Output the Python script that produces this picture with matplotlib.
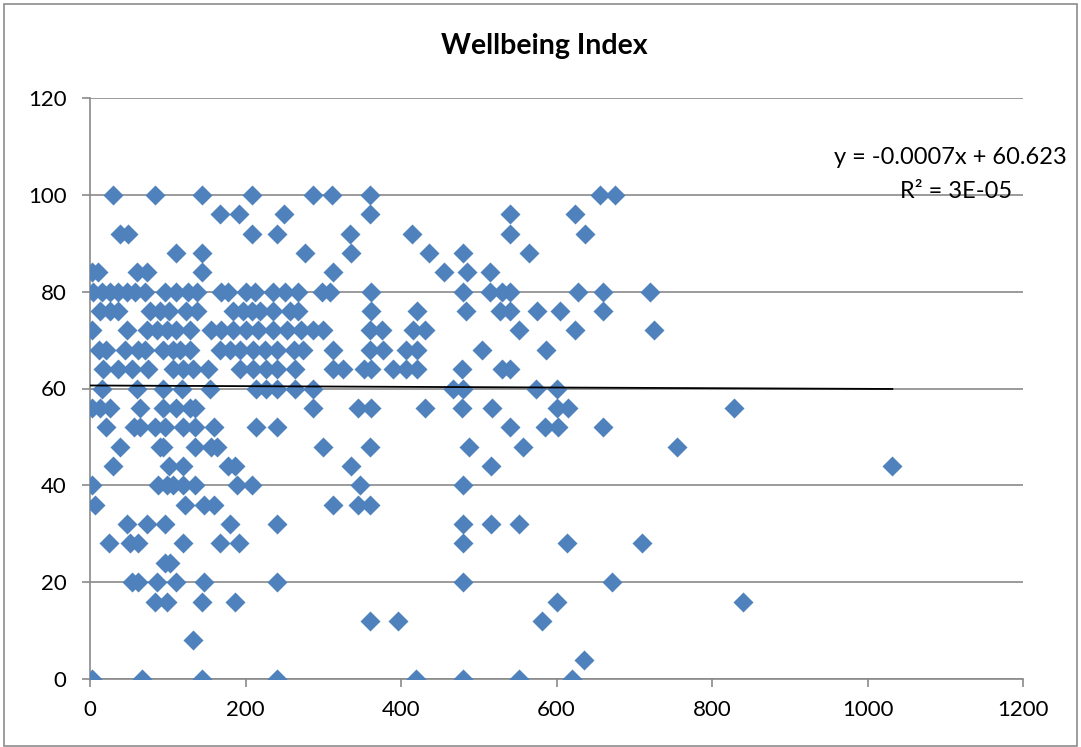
import matplotlib
matplotlib.use('Agg')
import matplotlib.pyplot as plt
import numpy as np
from matplotlib.patches import Rectangle

plt.rcParams['font.family'] = ['Lato', 'DejaVu Sans']

rows = {
    100: [30, 84, 144, 208, 287, 311, 360, 656, 675],
    96: [167, 192, 250, 360, 540, 624],
    92: [39, 49, 208, 240, 335, 414, 540, 637],
    88: [111, 144, 277, 336, 436, 480, 564],
    84: [2, 10, 60, 73, 144, 312, 455, 485, 515],
    80: [4, 15, 26, 36, 47, 58, 71, 96, 111, 126, 137, 169, 178, 201, 212,
         236, 251, 268, 298, 309, 362, 480, 515, 530, 540, 628, 660, 720],
    76: [13, 26, 36, 77, 90, 101, 124, 137, 184, 197, 208, 219, 236, 257,
         268, 362, 420, 484, 527, 540, 575, 604, 660],
    72: [2, 47, 73, 86, 99, 111, 129, 156, 169, 184, 201, 216, 236, 253,
         272, 287, 300, 360, 375, 416, 431, 552, 624, 725],
    68: [11, 21, 45, 62, 71, 94, 107, 116, 129, 167, 180, 193, 210, 225,
         240, 262, 274, 313, 360, 377, 407, 420, 504, 587],
    64: [17, 36, 54, 75, 107, 120, 133, 152, 193, 210, 227, 240, 264, 313,
         326, 352, 362, 390, 407, 420, 479, 530, 540],
    60: [15, 60, 94, 118, 154, 214, 227, 240, 264, 287, 467, 480, 574, 600],
    56: [2, 13, 26, 64, 94, 111, 129, 135, 287, 345, 362, 431, 478, 517,
         600, 615, 828],
    52: [21, 56, 64, 84, 96, 120, 135, 159, 214, 240, 540, 585, 602, 660],
    48: [38, 90, 94, 135, 156, 163, 300, 360, 488, 557, 755],
    44: [30, 101, 120, 178, 186, 336, 516, 1032],
    40: [3, 88, 99, 107, 120, 135, 189, 208, 347, 480],
    36: [6, 122, 146, 159, 312, 345, 360],
    32: [47, 73, 96, 180, 240, 480, 516, 552],
    28: [25, 51, 62, 120, 167, 192, 480, 614, 710],
    24: [96, 103],
    20: [54, 62, 86, 111, 146, 240, 480, 672],
    16: [84, 99, 144, 186, 600, 840],
    12: [360, 396, 581],
    8: [132],
    4: [636],
    0: [2, 67, 144, 240, 419, 480, 552, 620],
}

x = np.array([v for k in rows for v in rows[k]], dtype=float)
y = np.array([k for k in rows for v in rows[k]], dtype=float)

# trendline as given in the chart label
slope = -0.0007
intercept = 60.623

fig = plt.figure(figsize=(10.81, 7.47), dpi=100)
fig.patches.append(Rectangle((4 / 1081, 1 / 747), 1073 / 1081, 742 / 747,
                             transform=fig.transFigure, fill=False,
                             edgecolor='#8c8c8c', lw=1.2))
ax = fig.add_axes([90 / 1081, 1 - 679 / 747, 933 / 1081, 581 / 747])

ax.scatter(x, y, marker='D', s=104, color='#4F81BD', linewidths=0, zorder=3)
tx = np.array([0, x.max()])
ax.plot(tx, slope * tx + intercept, color='black', lw=1.3, zorder=4)

ax.set_xlim(0, 1200)
ax.set_ylim(0, 120)
ax.set_xticks(np.arange(0, 1201, 200))
ax.set_yticks(np.arange(0, 121, 20))
ax.yaxis.grid(True, color='#8a8a8a', lw=1.2)
ax.set_axisbelow(True)
for s in ['top', 'right']:
    ax.spines[s].set_visible(False)
for s in ['left', 'bottom']:
    ax.spines[s].set_color('#8a8a8a')
    ax.spines[s].set_linewidth(1.2)
ax.tick_params(axis='both', direction='out', length=6, width=1.2,
               color='#8a8a8a', labelsize=16)
ax.tick_params(axis='y', pad=11)
ax.tick_params(axis='x', pad=9)

fig.text(544 / 1081, 1 - 46 / 747, 'Wellbeing Index', ha='center',
         va='center', fontsize=20.5, fontweight='bold')
fig.text(950 / 1081, 1 - 158 / 747, 'y = -0.0007x + 60.623', ha='center',
         va='center', fontsize=17)
fig.text(956 / 1081, 1 - 192 / 747, 'R² = 3E-05', ha='center',
         va='center', fontsize=17)

fig.savefig('out.png', dpi=100)
